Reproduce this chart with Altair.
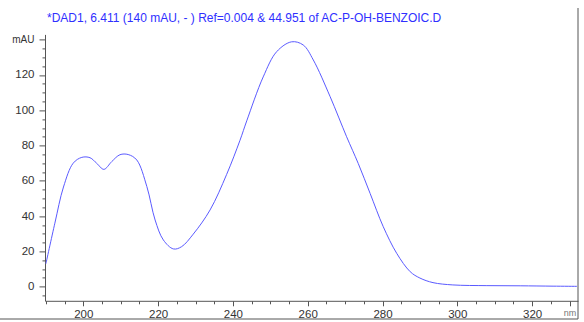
import altair as alt
import pandas as pd

title_text = ["*DAD1, 6.411 (140 mAU, - ) Ref=0.004 & 44.951 of AC-P-OH-BENZOIC.D"]

wavelength = [190.0, 192.4, 194.7, 197.3, 199.6, 201.8, 203.6, 205.5, 207.6, 209.8,
              212.0, 214.3, 217.0, 219.2, 221.4, 224.1, 226.3, 229.4, 233.9, 238.3,
              241.9, 243.7, 248.1, 251.7, 255.7, 258.8, 261.5, 266.0, 270.4, 273.5,
              276.7, 280.2, 283.8, 287.4, 290.0, 293.5, 298.8, 307.9, 316.8, 325.6, 332.0]
absorbance = [13.0, 36.0, 56.5, 70.0, 73.3, 73.1, 69.9, 66.5, 70.9, 74.8,
              74.9, 71.8, 56.7, 37.8, 26.5, 21.4, 22.7, 29.8, 43.5, 63.5,
              83.0, 94.0, 118.9, 133.2, 138.8, 137.0, 128.5, 107.7, 85.0, 69.9,
              52.8, 34.0, 18.9, 8.5, 4.9, 2.3, 1.0, 0.6, 0.5, 0.3, 0.2]

x_ticks = list(range(190, 335, 5))
y_ticks = list(range(-5, 145, 5))

df = pd.DataFrame({"nm": wavelength, "mAU": absorbance})
frame_df = pd.DataFrame({"k": [0]})
title_df = pd.DataFrame({"t": title_text})

axis_common = dict(
    grid=False, title=None, domainColor="#555555", tickColor="#555555",
    labelFont="Liberation Sans", labelOverlap=False,
    labelFlush=False, labelBound=False, domainWidth=1, tickWidth=1,
)

x_axis = alt.Axis(
    values=x_ticks,
    labelExpr="datum.value == 330 ? 'nm' : (datum.value % 20 == 0 ? datum.label : '')",
    tickSize={"condition": {"test": "datum.value % 20 == 0 || datum.value == 330", "value": 5}, "value": 3},
    labelFontSize={"condition": {"test": "datum.value == 330", "value": 9}, "value": 11.5},
    labelColor={"condition": {"test": "datum.value == 330", "value": "#777777"}, "value": "#333333"},
    labelPadding=3,
    **axis_common,
)
y_axis = alt.Axis(
    values=y_ticks,
    labelExpr="datum.value == 140 ? 'mAU' : (datum.value % 20 == 0 && datum.value >= 0 ? datum.label : '')",
    tickSize={"condition": {"test": "datum.value % 20 == 0", "value": 6}, "value": 3},
    labelFontSize={"condition": {"test": "datum.value == 140", "value": 10}, "value": 11.5},
    labelColor="#333333",
    labelPadding=5,
    **axis_common,
)

line = alt.Chart(df).mark_line(
    color="#5a5aff", strokeWidth=1, interpolate="catmull-rom", clip=True
).encode(
    x=alt.X("nm:Q", scale=alt.Scale(domain=[189.76, 332.27], nice=False, zero=False), axis=x_axis),
    y=alt.Y("mAU:Q", scale=alt.Scale(domain=[-8, 143], nice=False, zero=False), axis=y_axis),
)

title_mark = alt.Chart(title_df).mark_text(
    align="left", baseline="middle", font="Liberation Sans", fontSize=12,
    color="#2f2fff",
).encode(x=alt.value(2), y=alt.value(-16.9), text="t:N")

frame_right = alt.Chart(frame_df).mark_rule(color="#555555", strokeWidth=1).encode(
    x=alt.value(533), y=alt.value(-26.4), y2=alt.value(284.6)
)
frame_bottom = alt.Chart(frame_df).mark_rule(color="#555555", strokeWidth=1).encode(
    x=alt.value(-45), x2=alt.value(533), y=alt.value(284.6)
)

chart = alt.layer(line, title_mark, frame_right, frame_bottom).properties(
    width=533,
    height=266.4,
    background="white",
    autosize=alt.AutoSizeParams(type="none"),
    padding={"left": 45, "top": 34.4, "right": 6, "bottom": 21.2},
).configure_view(stroke=None)

chart.save("out.html", embed_options={"renderer": "svg", "actions": False})
